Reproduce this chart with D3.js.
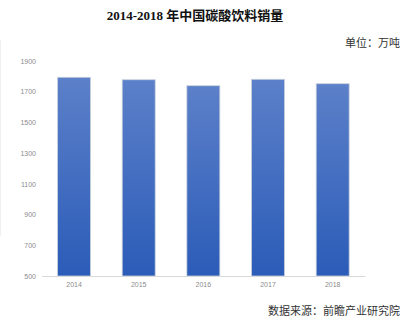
<!DOCTYPE html>
<html>
<head>
<meta charset="utf-8">
<script src="https://cdn.jsdelivr.net/npm/d3@7"></script>
<style>
  html, body { margin: 0; padding: 0; background: #fff; }
  svg { display: block; }
</style>
</head>
<body>
<svg id="chart" width="409" height="323"></svg>
<script>
// Carbonated drink sales in China, 10k tonnes
const years = ["2014", "2015", "2016", "2017", "2018"];
const sales = [1794, 1778, 1739, 1781, 1752];
const yTicks = [500, 700, 900, 1100, 1300, 1500, 1700, 1900];

(function () {
  const svg = d3.select("#chart");
  const plotLeft = 41.7, plotRight = 365, plotTop = 61, plotBottom = 276;

  const x = d3.scaleBand().domain(years).range([plotLeft, plotRight]).paddingInner(0.49).paddingOuter(0.245);
  const y = d3.scaleLinear().domain([500, 1900]).range([plotBottom, plotTop]);

  // bar gradient: lighter at the top, deeper blue at the base
  const defs = svg.append("defs");
  const grad = defs.append("linearGradient")
    .attr("id", "barGrad").attr("x1", 0).attr("y1", 0).attr("x2", 0).attr("y2", 1);
  grad.append("stop").attr("offset", "0%").attr("stop-color", "#5c80c9");
  grad.append("stop").attr("offset", "100%").attr("stop-color", "#2b5cb8");

  // faint frame edge on the left
  svg.append("line")
    .attr("x1", 0.5).attr("x2", 0.5).attr("y1", 40).attr("y2", 236)
    .attr("stroke", "#f0f0f0").attr("stroke-width", 1);

  // title
  svg.append("text")
    .attr("x", 195).attr("y", 20)
    .attr("text-anchor", "middle")
    .attr("font-family", "'Liberation Serif', 'Noto Sans CJK SC', serif")
    .attr("font-weight", "bold")
    .attr("font-size", 13)
    .attr("fill", "#111")
    .text("2014-2018 年中国碳酸饮料销量");

  // unit
  svg.append("text")
    .attr("x", 400).attr("y", 47)
    .attr("text-anchor", "end")
    .attr("font-family", "'Liberation Serif', 'Noto Sans CJK SC', serif")
    .attr("font-size", 11)
    .attr("fill", "#333")
    .text("单位：万吨");

  // y axis labels (no axis line)
  const yAxis = d3.axisLeft(y).tickValues(yTicks).tickSize(0).tickPadding(0).tickFormat(d3.format("d"));
  const gy = svg.append("g").attr("transform", "translate(36,0)").call(yAxis);
  gy.select(".domain").remove();
  gy.selectAll("text")
    .attr("font-family", "'Liberation Sans', Arial, sans-serif")
    .attr("font-size", 7)
    .attr("fill", "#8c8c8c");

  // bars
  svg.append("g").selectAll("rect")
    .data(years.map((yr, i) => ({ yr, v: sales[i] })))
    .join("rect")
    .attr("x", d => x(d.yr))
    .attr("y", d => y(d.v))
    .attr("width", x.bandwidth())
    .attr("height", d => y(500) - y(d.v))
    .attr("fill", "url(#barGrad)")
    .attr("stroke", "#c9d0dc")
    .attr("stroke-width", 0.8);

  // x axis baseline and labels
  const xAxis = d3.axisBottom(x).tickSize(0).tickPadding(6);
  const gx = svg.append("g").attr("transform", `translate(0,${plotBottom})`).call(xAxis);
  gx.select(".domain").attr("stroke", "#d9d9d9").attr("stroke-width", 1);
  gx.selectAll("text")
    .attr("font-family", "'Liberation Sans', Arial, sans-serif")
    .attr("font-size", 7)
    .attr("fill", "#8c8c8c");

  // source note
  svg.append("text")
    .attr("x", 400).attr("y", 315)
    .attr("text-anchor", "end")
    .attr("font-family", "'Liberation Serif', 'Noto Sans CJK SC', serif")
    .attr("font-size", 11)
    .attr("fill", "#333")
    .text("数据来源：前瞻产业研究院");
})();
</script>
</body>
</html>
